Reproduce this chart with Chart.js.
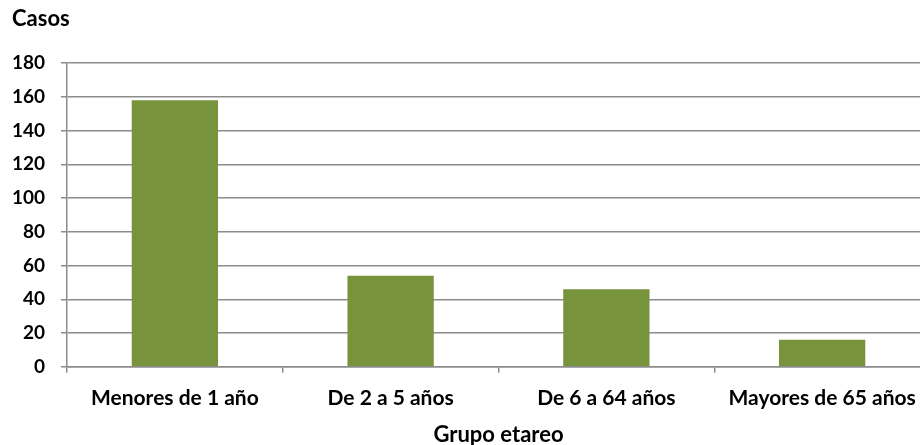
<!DOCTYPE html>
<html>
<head>
<meta charset="utf-8">
<script src="https://cdn.jsdelivr.net/npm/chart.js@4"></script>
<style>
  html, body { margin: 0; padding: 0; background: #fff; overflow: hidden; }
  #wrap { width: 932px; height: 445px; }
</style>
</head>
<body>
<div id="wrap"><canvas id="chartCanvas"></canvas></div>
<script>
const categories = ['Menores de 1 año', 'De 2 a 5 años', 'De 6 a 64 años', 'Mayores de 65 años'];
const casos = [158, 54, 46, 16];
const yTicks = [0, 20, 40, 60, 80, 100, 120, 140, 160, 180];

const fontFamily = 'Lato, "Open Sans", sans-serif';
const gridColor = '#8c8c8c';

// "Casos" label sits above the y axis, top left
const casosLabel = {
    id: 'casosLabel',
    afterDraw(chart) {
        const ctx = chart.ctx;
        ctx.save();
        ctx.font = 'bold 22px ' + fontFamily;
        ctx.fillStyle = '#000';
        ctx.textBaseline = 'middle';
        ctx.fillText('Casos', 12, 19);
        ctx.restore();
    }
};

new Chart(document.getElementById('chartCanvas'), {
    type: 'bar',
    data: {
        labels: categories,
        datasets: [{
            label: 'Casos',
            data: casos,
            backgroundColor: '#77933c',
            borderWidth: 0,
            barPercentage: 0.8,
            categoryPercentage: 0.5
        }]
    },
    options: {
        responsive: true,
        maintainAspectRatio: false,
        animation: false,
        layout: { padding: { top: 63, left: 0, right: 2, bottom: -1 } },
        plugins: {
            legend: { display: false },
            tooltip: { enabled: false }
        },
        scales: {
            y: {
                min: 0,
                max: 180,
                afterFit(scale) { scale.width = 67; },
                afterBuildTicks(scale) { scale.ticks = yTicks.map(v => ({ value: v })); },
                ticks: {
                    padding: 16,
                    color: '#000',
                    font: { family: fontFamily, size: 19, weight: 'bold' }
                },
                grid: { color: gridColor, lineWidth: 1.5, tickLength: 6 },
                border: { color: gridColor, width: 1.5 }
            },
            x: {
                ticks: {
                    // chart.js puts this padding above and below the labels
                    padding: 13,
                    color: '#000',
                    maxRotation: 0,
                    font: { family: fontFamily, size: 21, weight: 'bold', lineHeight: 1.2 }
                },
                grid: { drawOnChartArea: false, color: gridColor, lineWidth: 1.5, tickLength: 6 },
                border: { color: gridColor, width: 1.5 },
                title: {
                    display: true,
                    text: 'Grupo etareo',
                    color: '#000',
                    padding: { top: 0, bottom: 0 },
                    font: { family: fontFamily, size: 22, weight: 'bold', lineHeight: 1 }
                }
            }
        }
    },
    plugins: [casosLabel]
});
</script>
</body>
</html>
